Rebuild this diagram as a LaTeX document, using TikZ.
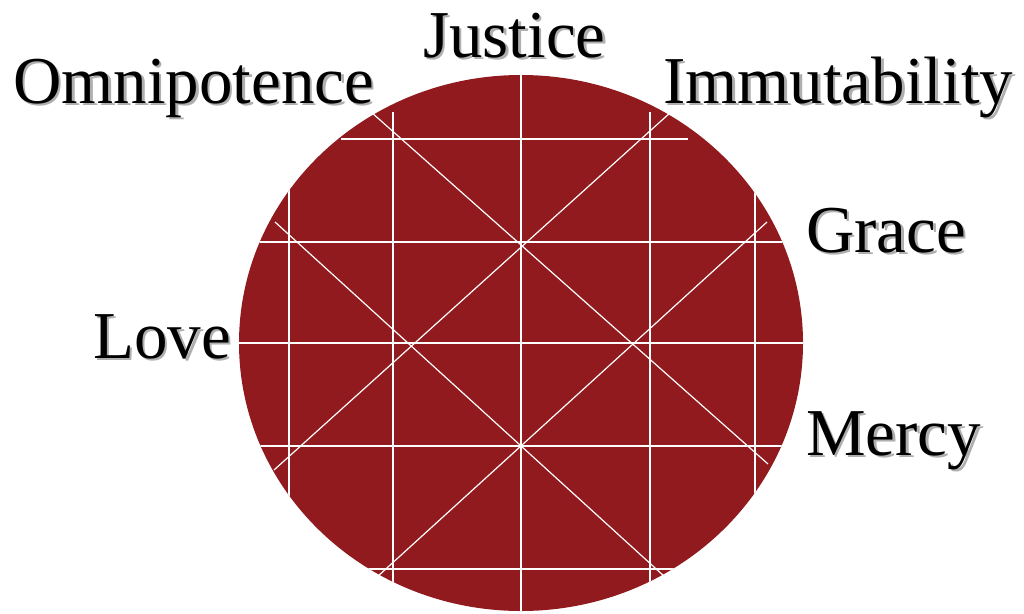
\documentclass[tikz,border=0pt]{standalone}
\usepackage{fontspec}
\setmainfont{Liberation Serif}
\usetikzlibrary{positioning}
\definecolor{discred}{RGB}{145,26,30}
\definecolor{shadowgray}{RGB}{175,175,175}

% text with a soft drop shadow, kept in one box
\newcommand{\shadowed}[1]{%
  \rlap{\hspace{2.5pt}\raisebox{-2.5pt}{\textcolor{shadowgray}{#1}}}#1}

\begin{document}
\begin{tikzpicture}[x=1pt,y=-1pt,
    attrib/.style={anchor=base west,inner sep=0pt,font=\fontsize{67}{70}\selectfont},
    gridline/.style={white,line width=1.5pt},
    crossline/.style={white,line width=1.2pt}]
  \useasboundingbox (0,0) rectangle (1024,613);
  \fill[discred] (521,343) ellipse [x radius=282pt,y radius=268pt];
  \begin{scope}
    \clip (521,343) ellipse [x radius=282pt,y radius=268pt];
    % horizontals
    \draw[gridline] (341,139) -- (688,139);
    \draw[gridline] (230,242) -- (810,242);
    \draw[gridline] (230,343) -- (810,343);
    \draw[gridline] (230,446) -- (810,446);
    \draw[gridline] (300,569) -- (740,569);
    % verticals
    \draw[gridline] (289,150) -- (289,600);
    \draw[gridline] (393,112) -- (393,620);
    \draw[gridline] (521,60) -- (521,620);
    \draw[gridline] (650,112) -- (650,620);
    \draw[gridline] (755,150) -- (755,600);
  \end{scope}
  % the two crossing pairs
  \draw[crossline] (371,112) -- (768,464);
  \draw[crossline] (671,112) -- (274,470);
  \draw[crossline] (275,222) -- (665,577);
  \draw[crossline] (767,222) -- (377,577);
  % labels
  \node[attrib] (omni) at (13,103) {\shadowed{Omnipotence}};
  \node[attrib] (just) at (423,57) {\shadowed{Justice}};
  \node[attrib] (immu) at (663,103) {\shadowed{Immutability}};
  \node[attrib] (grace) at (806,252) {\shadowed{Grace}};
  \node[attrib] (love) at (93,358) {\shadowed{Love}};
  \node[attrib] (mercy) at (806,455) {\shadowed{Mercy}};
\end{tikzpicture}
\end{document}
